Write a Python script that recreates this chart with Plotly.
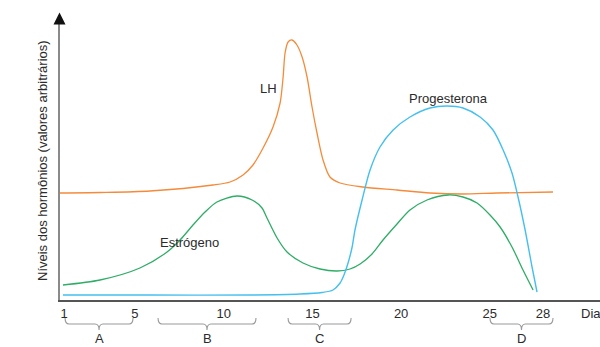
import plotly.graph_objects as go

# ---- data (arbitrary hormone units vs. cycle day) ----
lh_day = [0.77, 3.03, 5.85, 9.40, 10.36, 11.09, 11.65, 12.22, 12.78, 13.18, 13.35, 13.46,
          13.63, 13.85, 14.13, 14.42, 14.70, 14.98, 15.26, 15.60, 15.99, 16.56, 17.85,
          19.77, 21.63, 23.49, 25.41, 28.56]
lh_val = [107, 107.5, 109, 115, 118, 125, 135, 152, 173, 197, 223, 247,
          258, 260, 255, 243, 223, 193, 167, 140, 123, 117, 113,
          110, 107, 106, 107, 108]

est_day = [0.94, 3.03, 5.28, 6.81, 7.54, 8.27, 8.95, 9.62, 10.75, 11.60, 12.16, 12.44,
           13.01, 13.57, 14.47, 15.43, 16.39, 17.12, 17.69, 18.36, 18.98, 19.77, 20.50,
           21.46, 22.65, 23.49, 24.28, 25.01, 25.58, 26.25, 26.87, 27.44]
est_val = [15, 20, 32, 48, 60, 75, 88, 98, 104, 100, 92, 82,
           62, 48, 37, 31, 29, 31, 36, 46, 60, 76, 90,
           100, 105, 103, 97, 85, 73, 53, 30, 10]

prog_day = [0.94, 5.85, 11.48, 14.30, 15.54, 16.16, 16.56, 16.78, 17.01, 17.24, 17.40,
            17.80, 18.25, 18.81, 19.55, 20.50, 21.63, 22.59, 23.49, 24.45, 25.18, 25.75,
            26.25, 26.59, 26.99, 27.38, 27.66]
prog_val = [5, 5, 5, 6, 7.5, 10, 17, 25, 37, 53, 70,
            100, 130, 153, 170, 183, 192, 194, 192, 183, 170, 150,
            127, 103, 70, 33, 8]

tick_days = [1, 5, 10, 15, 20, 25, 28]
tick_text = ["1", "5", "10", "15", "20", "25", "28"]

phase_names = ["A", "B", "C", "D"]
phase_start = [1.06, 6.30, 13.63, 25.01]
phase_end = [4.89, 11.82, 17.18, 28.56]

# ---- layout constants ----
X_RANGE = [0.7745, 31.21]
Y_RANGE = [0, 285]
FONT = "Arial, Liberation Sans, sans-serif"
TXT = "#2b2b2b"

fig = go.Figure()
fig.add_trace(go.Scatter(x=lh_day, y=lh_val, mode="lines", name="LH",
                         line=dict(color="#F58B3A", width=1.3, shape="spline", smoothing=0.8)))
fig.add_trace(go.Scatter(x=est_day, y=est_val, mode="lines", name="Estrógeno",
                         line=dict(color="#2EAD66", width=1.3, shape="spline", smoothing=0.8)))
fig.add_trace(go.Scatter(x=prog_day, y=prog_val, mode="lines", name="Progesterona",
                         line=dict(color="#45BFEF", width=1.4, shape="spline", smoothing=0.8)))


def px_x(day):
    return (day - X_RANGE[0]) / (X_RANGE[1] - X_RANGE[0])


def py(pix):
    # pixel row -> paper y (plot area from 15 to 300)
    return (300 - pix) / 285.0


shapes = []
# arrow head on y axis
shapes.append(dict(type="path", xref="paper", yref="paper",
                   path=f"M {-0.5/540} {py(12.5)} L {-6.5/540} {py(24.5)} L {5.5/540} {py(24.5)} Z",
                   fillcolor="#111", line=dict(width=0)))
# braces for phases
ytop, ymid, ybot = py(318), py(324), py(330)
for s, e in zip(phase_start, phase_end):
    x0, x1 = px_x(s), px_x(e)
    xc = (x0 + x1) / 2
    r = 4 / 540
    path = (f"M {x0} {ytop} Q {x0} {ymid} {x0 + r} {ymid} L {xc - r} {ymid} "
            f"Q {xc} {ymid} {xc} {ybot} Q {xc} {ymid} {xc + r} {ymid} "
            f"L {x1 - r} {ymid} Q {x1} {ymid} {x1} {ytop}")
    shapes.append(dict(type="path", xref="paper", yref="paper", path=path,
                       line=dict(color="#9a9a9a", width=1.1)))

annotations = []
for name, s, e in zip(phase_names, phase_start, phase_end):
    annotations.append(dict(x=(s + e) / 2, y=py(338), xref="x", yref="paper", text=name,
                            yanchor="middle", xanchor="center",
                            showarrow=False, font=dict(size=13, color=TXT, family=FONT)))
annotations += [
    dict(x=12.50, y=212, xref="x", yref="y", text="LH", showarrow=False,
         font=dict(size=13, color=TXT, family=FONT)),
    dict(x=8.10, y=58, xref="x", yref="y", text="Estrógeno", showarrow=False,
         font=dict(size=13, color=TXT, family=FONT)),
    dict(x=22.65, y=202, xref="x", yref="y", text="Progesterona", showarrow=False,
         font=dict(size=13, color=TXT, family=FONT)),
    dict(x=(579 - 60) / 540, y=py(313), xref="paper", yref="paper", text="Dias",
         xanchor="left", yanchor="middle", showarrow=False,
         font=dict(size=13, color=TXT, family=FONT)),
    dict(x=(42 - 60) / 540, y=py(161), xref="paper", yref="paper",
         text="Níveis dos hormônios (valores arbitrários)", textangle=-90,
         xanchor="center", yanchor="middle",
         showarrow=False, font=dict(size=13, color=TXT, family=FONT)),
]

fig.update_layout(
    width=600, height=347,
    margin=dict(l=60, r=0, t=15, b=47),
    paper_bgcolor="white", plot_bgcolor="white",
    showlegend=False,
    shapes=shapes,
    annotations=annotations,
    xaxis=dict(range=X_RANGE, showgrid=False, zeroline=False, showline=True,
               linecolor="#555", linewidth=2, tickvals=tick_days, ticktext=tick_text,
               ticks="", tickfont=dict(size=13, color=TXT, family=FONT)),
    yaxis=dict(range=Y_RANGE, showgrid=False, zeroline=False, showline=True,
               linecolor="#8a8a8a", linewidth=2, showticklabels=False, ticks=""),
)

fig.write_html("out.html")
